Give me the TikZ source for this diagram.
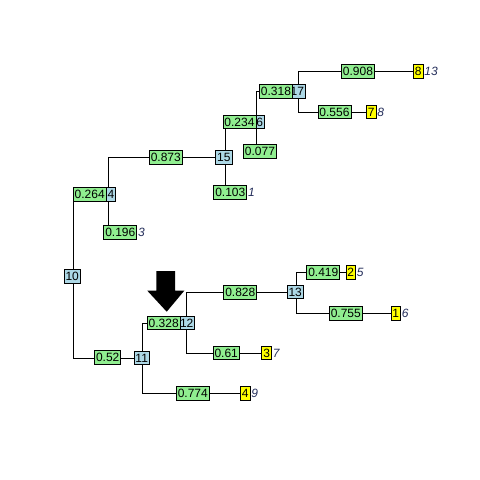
\documentclass[tikz,border=0pt]{standalone}
\usepackage{fontspec}
\setmainfont{Liberation Sans}
\definecolor{edgegreen}{HTML}{90EE90}
\definecolor{nodeblue}{HTML}{ADD8E6}
\definecolor{tipyellow}{HTML}{FFFF00}
\definecolor{tiptext}{RGB}{35,45,90}
\begin{document}
\begin{tikzpicture}[x=1pt,y=-1pt,
  every node/.style={font=\fontsize{12}{14}\selectfont, inner xsep=1.5pt, inner ysep=2.5pt,
    text height=8.6pt, text depth=0pt, draw=black, line width=0.8pt},
  inner/.style={fill=nodeblue},
  elabel/.style={fill=edgegreen},
  tip/.style={fill=tipyellow},
  tiplabel/.style={draw=none, inner xsep=0.5pt, anchor=west, text=tiptext, font=\fontsize{12}{14}\selectfont\itshape},
  branch/.style={draw=black, line width=0.8pt}]
\useasboundingbox (0,0) rectangle (480,480);
\fill[white] (0,0) rectangle (480,480);

% tree positions
\coordinate (p10) at (73.3,276.3);
\coordinate (p14) at (108.3,194.5);
\coordinate (p15) at (225.7,157.2);
\coordinate (p16) at (256.7,122);
\coordinate (p17) at (298.7,91.2);
\coordinate (p11) at (142.3,358);
\coordinate (p12) at (186.7,323);
\coordinate (p13) at (296.7,292);
\coordinate (q3) at (108.3,232.2);
\coordinate (q1) at (225.7,192.2);
\coordinate (q16) at (256.7,151.5);
\coordinate (l8) at (418.3,71.2);
\coordinate (l7) at (371.2,112);
\coordinate (l2) at (350.8,272.5);
\coordinate (l1) at (395.8,313.3);
\coordinate (l3) at (266.7,353);
\coordinate (l4) at (245.2,393.3);

% branches
\draw[branch] (p10) |- (p14);
\draw[branch] (p10) |- (p11);
\draw[branch] (p14) |- (p15);
\draw[branch] (p14) -- (q3);
\draw[branch] (p15) |- (p16);
\draw[branch] (p15) -- (q1);
\draw[branch] (p16) |- (p17);
\draw[branch] (p16) -- (q16);
\draw[branch] (p17) |- (l8);
\draw[branch] (p17) |- (l7);
\draw[branch] (p11) |- (p12);
\draw[branch] (p11) |- (l4);
\draw[branch] (p12) |- (p13);
\draw[branch] (p12) |- (l3);
\draw[branch] (p13) |- (l2);
\draw[branch] (p13) |- (l1);

% internal nodes
\node[inner] (n10) at (72.2,276.3) {10};
\node[inner] (n14) at (111,194.5) {4};
\node[inner] (n15) at (223.8,157.2) {15};
\node[inner] (n16) at (259.6,122) {6};
\node[inner] (n17) at (297.3,91.2) {17};
\node[inner] (n11) at (141.7,358) {11};
\node[inner] (n12) at (186.7,323) {12};
\node[inner] (n13) at (295.2,292) {13};

% branch lengths
\node[elabel] (e264) at (89.7,194.5) {0.264};
\node[elabel] (e196) at (120.3,232.2) {0.196};
\node[elabel] (e873) at (165.8,157.2) {0.873};
\node[elabel] (e103) at (230.3,192.2) {0.103};
\node[elabel] (e234) at (239.5,122) {0.234};
\node[elabel] (e077) at (260,151.5) {0.077};
\node[elabel] (e318) at (276,91.2) {0.318};
\node[elabel] (e908) at (358,71.2) {0.908};
\node[elabel] (e556) at (334.5,112) {0.556};
\node[elabel] (e52) at (107.7,357.5) {0.52};
\node[elabel] (e328) at (163.7,323) {0.328};
\node[elabel] (e828) at (240.3,292.5) {0.828};
\node[elabel] (e61) at (226.2,353) {0.61};
\node[elabel] (e774) at (192.8,393.3) {0.774};
\node[elabel] (e419) at (323.3,272.5) {0.419};
\node[elabel] (e755) at (345.8,313.3) {0.755};

% tips
\node[tip] (t8) at (l8) {8};
\node[tip] (t7) at (l7) {7};
\node[tip] (t2) at (l2) {2};
\node[tip] (t1) at (l1) {1};
\node[tip] (t3) at (l3) {3};
\node[tip] (t4) at (l4) {4};

% tip names
\node[tiplabel] (s13) at (t8.east) {13};
\node[tiplabel] (s8) at (t7.east) {8};
\node[tiplabel] (s5) at (t2.east) {5};
\node[tiplabel] (s6) at (t1.east) {6};
\node[tiplabel] (s7) at (t3.east) {7};
\node[tiplabel] (s9) at (t4.east) {9};
\node[tiplabel] (s1) at (e103.east) {1};
\node[tiplabel] (s3) at (e196.east) {3};

% marker arrow
\fill[black] (156.3,271) -- (175,271) -- (175,290.7) -- (184.3,290.7) -- (166.7,311.7)
  -- (147.3,290.7) -- (156.3,290.7) -- cycle;
\end{tikzpicture}
\end{document}
